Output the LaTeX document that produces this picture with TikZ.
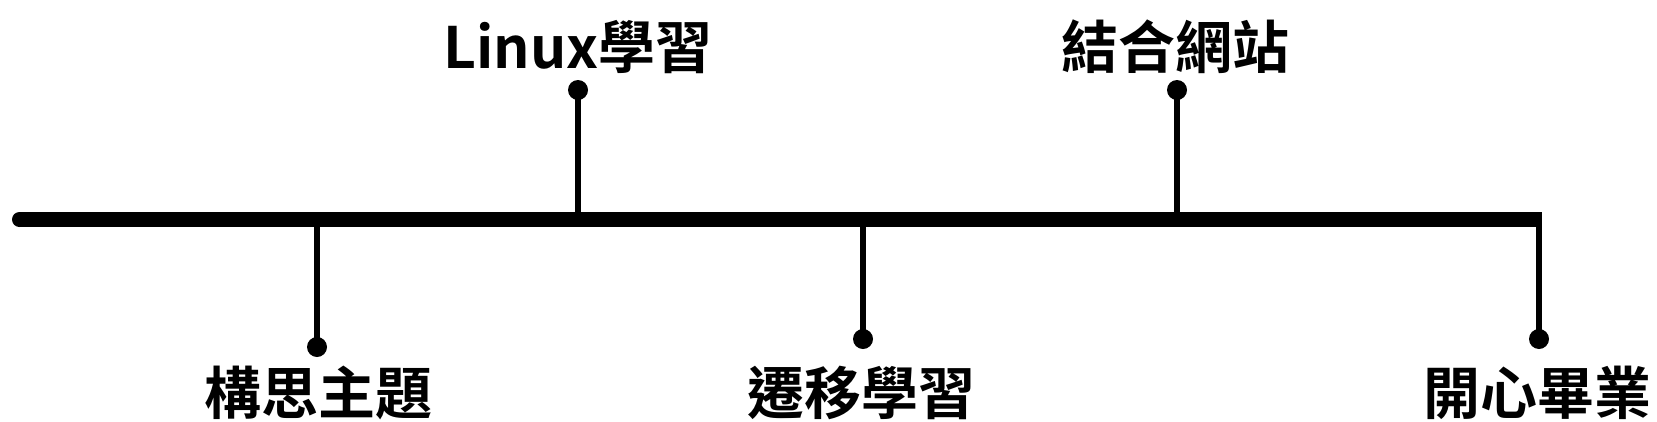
\documentclass[tikz,border=0pt]{standalone}
\usepackage{fontspec}
\newfontfamily\cjk{Noto Sans CJK TC}[BoldFont={Noto Sans CJK TC Bold}]
\usetikzlibrary{arrows.meta}
\tikzset{
  mainline/.style={line width=15pt, line cap=butt},
  tick/.style={line width=6pt},
  dot/.style={circle, fill=black, inner sep=0pt, minimum size=20pt},
  lbl/.style={font=\cjk\bfseries\fontsize{57}{60}\selectfont, inner sep=0pt, anchor=base}
}
\begin{document}
\begin{tikzpicture}[x=1pt,y=-1pt]
\useasboundingbox (0,0) rectangle (1657,421);
% main line
\coordinate (s) at (19.5,219.5);
\coordinate (e) at (1542,219.5);
\fill (s) circle (7.5pt);
\draw[mainline] (s) -- (e);
% tick anchors on the main line
\coordinate (t1) at (317,219.5);
\coordinate (t2) at (578,219.5);
\coordinate (t3) at (863,219.5);
\coordinate (t4) at (1177,219.5);
\coordinate (t5) at (1539,219.5);
% dots
\node[dot] (d1) at (317,347) {};
\node[dot] (d2) at (578,90) {};
\node[dot] (d3) at (863,339) {};
\node[dot] (d4) at (1177,90) {};
\node[dot] (d5) at (1539,339) {};
% ticks
\draw[tick] (t1) -- (d1.center);
\draw[tick] (t2) -- (d2.center);
\draw[tick] (t3) -- (d3.center);
\draw[tick] (t4) -- (d4.center);
\draw[tick] (t5) -- (d5.center);
% labels
\node[lbl] (l1) at (318,414) {構思主題};
\node[lbl] (l2) at (578,68) {Linux學習};
\node[lbl] (l3) at (861,414) {遷移學習};
\node[lbl] (l4) at (1175,68) {結合網站};
\node[lbl] (l5) at (1537,414) {開心畢業};
\end{tikzpicture}
\end{document}
